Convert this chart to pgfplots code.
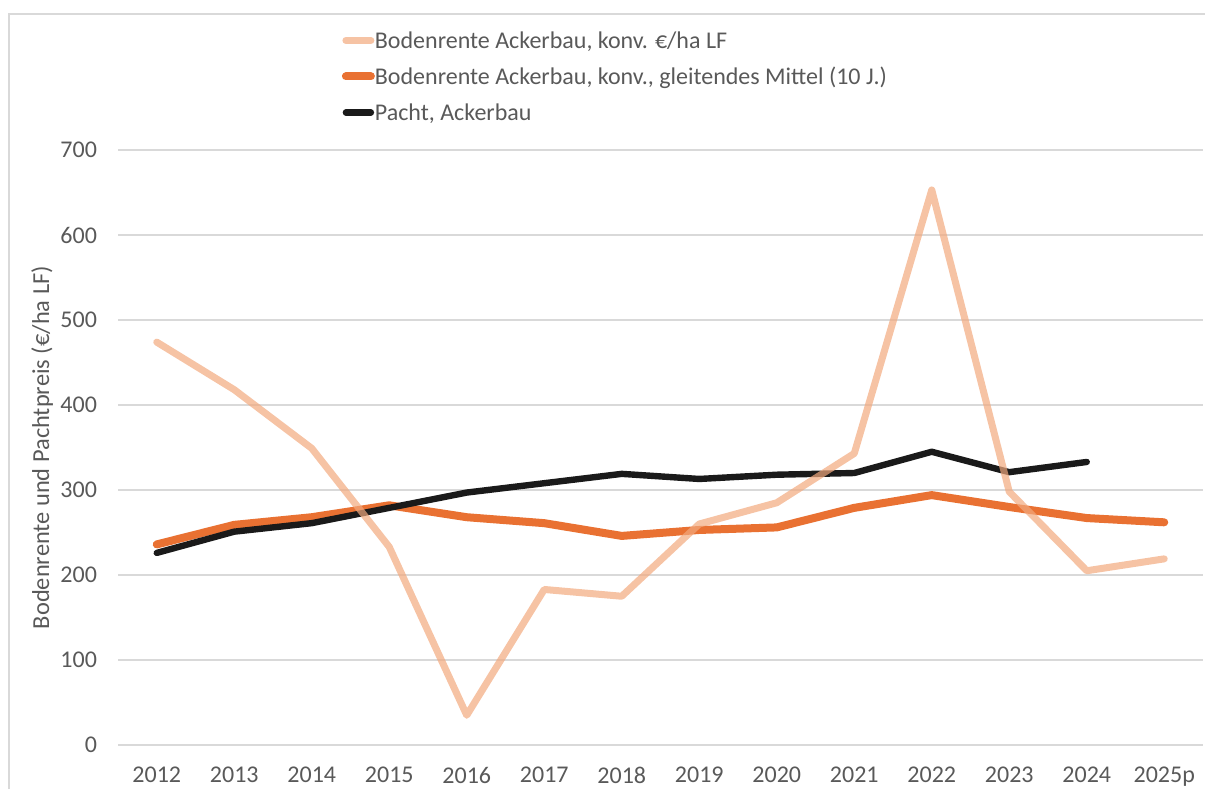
\documentclass[border=0pt]{standalone}
\usepackage{fontspec}
\setmainfont{Carlito}
\usepackage{pgfplots}
\pgfplotsset{compat=1.18}
\definecolor{lightc}{HTML}{F2A97E}
\definecolor{orangec}{HTML}{E97132}
\definecolor{blackc}{HTML}{1A1A1A}
\definecolor{textc}{HTML}{595959}
\definecolor{gridc}{HTML}{D9D9D9}
\begin{document}
\begin{tikzpicture}[x=1pt,y=1pt]
\useasboundingbox (0,0) rectangle (602.5,394.5);
\draw[gridc, line width=0.6pt] (4.5,0) -- (4.5,387.5) -- (602.5,387.5);
\begin{axis}[
  at={(59pt,22pt)}, anchor=south west,
  scale only axis, width=542.5pt, height=297.5pt,
  xmin=-0.5, xmax=13.5, ymin=0, ymax=700,
  xtick={0,...,13},
  xticklabels={2012,2013,2014,2015,2016,2017,2018,2019,2020,2021,2022,2023,2024,2025p},
  ytick={0,100,...,700},
  axis line style={draw=none},
  major tick length=0pt,
  ymajorgrids, grid style={gridc, line width=0.7pt},
  tick label style={font=\fontsize{12}{14}\selectfont, text=textc},
  /pgf/number format/assume math mode=true,
  xticklabel style={yshift=-7.5pt},
  yticklabel style={xshift=-7pt},
  ylabel={Bodenrente und Pachtpreis (€/ha LF)},
  every axis y label/.style={at={(axis description cs:-0.070,0.5)}, rotate=90, anchor=center,
    font=\fontsize{12.2}{14}\selectfont, text=textc},
  legend style={at={(axis description cs:0.2060,1.2016)}, anchor=north west, draw=none, fill=none,
    font=\fontsize{12}{14}\selectfont, text=textc, inner sep=0pt,
    nodes={inner sep=0pt, text height=9pt, text depth=9pt, anchor=west}},
  legend cell align=left,
  legend image code/.code={\draw[#1, line cap=round] (1.5pt,4pt) -- (14pt,4pt);},
]
\addlegendimage{lightc, line width=3.5pt, opacity=0.7}
\addlegendentry{Bodenrente Ackerbau, konv. €/ha LF}
\addlegendimage{orangec, line width=4pt}
\addlegendentry{Bodenrente Ackerbau, konv., gleitendes Mittel (10 J.)}
\addlegendimage{blackc, line width=3.2pt}
\addlegendentry{Pacht, Ackerbau}
\addplot[orangec, line width=4pt, line cap=round, line join=round, forget plot] coordinates {
(0,236) (1,259) (2,268) (3,282) (4,268) (5,261) (6,246) (7,253) (8,256) (9,279) (10,294) (11,280) (12,267) (13,262)};
\addplot[blackc, line width=3.2pt, line cap=round, line join=round, forget plot] coordinates {
(0,226) (1,251) (2,261) (3,279) (4,297) (5,308) (6,319) (7,313) (8,318) (9,320) (10,345) (11,321) (12,333)};
\addplot[lightc, line width=3.5pt, line cap=round, line join=round, opacity=0.7, forget plot] coordinates {
(0,474) (1,418) (2,349) (3,233) (4,35) (5,183) (6,175) (7,260) (8,285) (9,343) (10,653) (11,298) (12,205) (13,219)};
\end{axis}
\end{tikzpicture}
\end{document}
